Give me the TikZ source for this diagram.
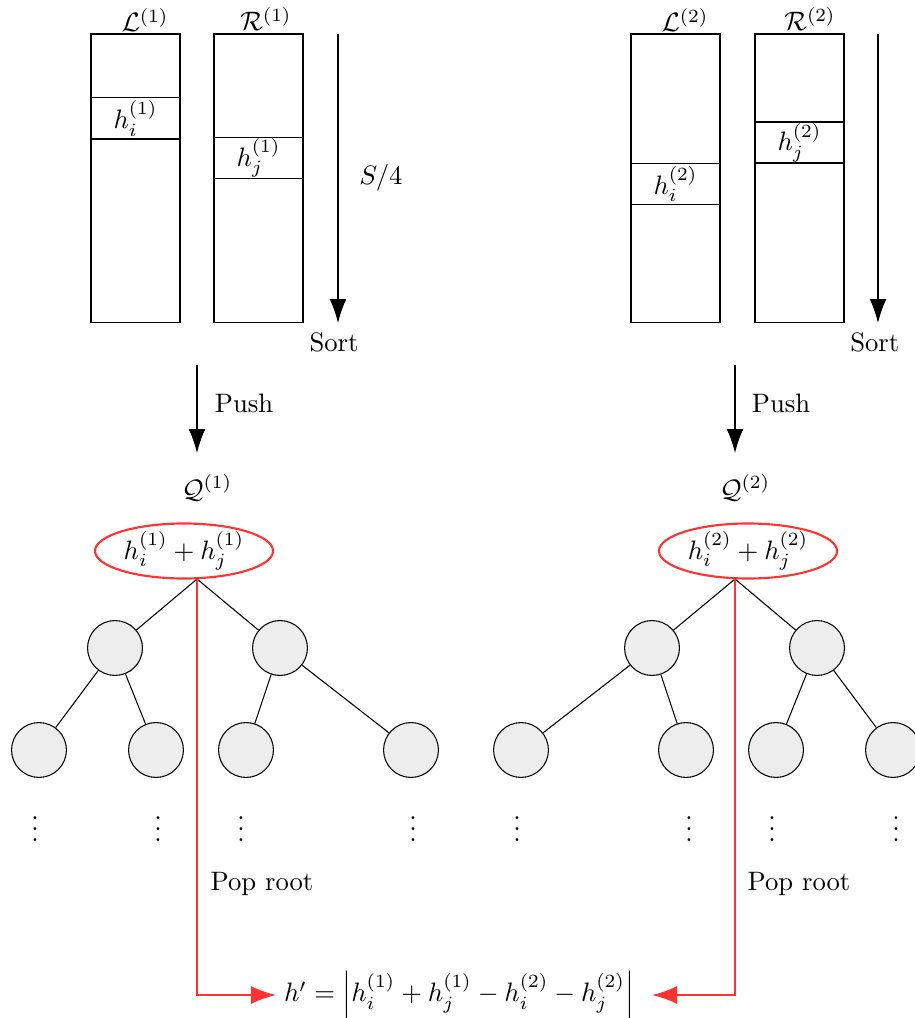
\documentclass[tikz,border=0pt]{standalone}
\usetikzlibrary{arrows.meta,shapes.geometric}
\definecolor{popred}{RGB}{255,51,51}
\begin{document}
\begin{tikzpicture}[x=0.3752pt, y=-0.3752pt, >={Latex[length=9pt,width=6.3pt]},
        listbox/.style={draw, minimum width=33.4pt, minimum height=108.4pt, inner sep=0pt},
        cell/.style={draw, minimum width=33.4pt, minimum height=15.4pt, inner sep=0pt},
        heap/.style={circle, draw, fill=black!7, minimum size=20.6pt, inner sep=0pt},
        rootbox/.style={ellipse, draw=popred, line width=0.8pt, minimum width=66.8pt, minimum height=20.3pt, inner sep=0pt},
        pop/.style={draw=popred, line width=0.8pt, -{Latex[length=9.4pt,width=6.8pt]}}]
        \useasboundingbox (0,0) rectangle (914,1018);

        % sorted lists, first half
        \node [listbox] (L1) at (135.5,178.5) {};
        \node [cell] (hi1) at (135.5,118.5) {$h_i^{(1)}$};
        \node (L1lab) at (145,20) {$\mathcal{L}^{(1)}$};
        \node [listbox] (R1) at (258.5,178.5) {};
        \node [cell] (hj1) at (258.5,158) {$h_j^{(1)}$};
        \node (R1lab) at (266,19) {$\mathcal{R}^{(1)}$};

        \coordinate (s1a) at (338,34);
        \coordinate (s1b) at (338,323);
        \draw [->] (s1a) -- (s1b) node [below, xshift=-1.5pt] (sort1) {Sort};
        \node (size) at (381,178) {$S/4$};

        % sorted lists, second half
        \node [listbox] (L2) at (675.5,178.5) {};
        \node [cell] (hi2) at (675.5,184) {$h_i^{(2)}$};
        \node (L2lab) at (685,20) {$\mathcal{L}^{(2)}$};
        \node [listbox] (R2) at (799.5,178.5) {};
        \node [cell] (hj2) at (799.5,142.5) {$h_j^{(2)}$};
        \node (R2lab) at (810,19) {$\mathcal{R}^{(2)}$};

        \coordinate (s2a) at (878,34);
        \coordinate (s2b) at (878,323);
        \draw [->] (s2a) -- (s2b) node [below, xshift=-1.2pt] (sort2) {Sort};

        % push into the heaps
        \coordinate (p1a) at (197,365);
        \coordinate (p1b) at (197,453);
        \draw [->] (p1a) -- (p1b);
        \node (push1) at (244,403) {Push};
        \coordinate (p2a) at (735,365);
        \coordinate (p2b) at (735,453);
        \draw [->] (p2a) -- (p2b);
        \node (push2) at (781,403) {Push};

        \node (Q1) at (207,488) {$\mathcal{Q}^{(1)}$};
        \node (Q2) at (745,488) {$\mathcal{Q}^{(2)}$};

        % heap Q1
        \node [rootbox] (top1) at (184,551) {$h_i^{(1)} + h_j^{(1)}$};
        \coordinate (root1) at (197,579);
        \node [heap] (a1) at (115,648) {};
        \node [heap] (b1) at (280,648) {};
        \node [heap] (a11) at (39,750) {};
        \node [heap] (a12) at (156,750) {};
        \node [heap] (b11) at (246,750) {};
        \node [heap] (b12) at (411,750) {};
        \draw (root1) -- (a1);
        \draw (root1) -- (b1);
        \draw (a1) -- (a11);
        \draw (a1) -- (a12);
        \draw (b1) -- (b11);
        \draw (b1) -- (b12);
        \node (d11) at (35,821) {$\vdots$};
        \node (d12) at (158,821) {$\vdots$};
        \node (d13) at (241,821) {$\vdots$};
        \node (d14) at (413,821) {$\vdots$};

        % heap Q2
        \node [rootbox] (top2) at (748,551) {$h_i^{(2)} + h_j^{(2)}$};
        \coordinate (root2) at (735,579);
        \node [heap] (a2) at (652,648) {};
        \node [heap] (b2) at (817,648) {};
        \node [heap] (a21) at (521,750) {};
        \node [heap] (a22) at (686,750) {};
        \node [heap] (b21) at (776,750) {};
        \node [heap] (b22) at (893,750) {};
        \draw (root2) -- (a2);
        \draw (root2) -- (b2);
        \draw (a2) -- (a21);
        \draw (a2) -- (a22);
        \draw (b2) -- (b21);
        \draw (b2) -- (b22);
        \node (d21) at (517,821) {$\vdots$};
        \node (d22) at (689,821) {$\vdots$};
        \node (d23) at (772,821) {$\vdots$};
        \node (d24) at (896,821) {$\vdots$};

        % pop both roots
        \node (diff) at (459,995) {$h' = \left| h_i^{(1)} + h_j^{(1)} - h_i^{(2)} - h_j^{(2)} \right|$};
        \coordinate (in1) at (276,995);
        \coordinate (in2) at (652,995);
        \draw [pop] (root1) |- (in1);
        \draw [pop] (root2) |- (in2);
        \node (pop1) at (262,884) {Pop root};
        \node (pop2) at (799,884) {Pop root};
    \end{tikzpicture}
\end{document}
